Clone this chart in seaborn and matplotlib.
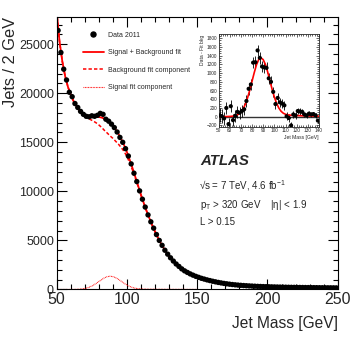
import numpy as np
import matplotlib
matplotlib.use("Agg")
import matplotlib.pyplot as plt
import seaborn as sns
from matplotlib.lines import Line2D
from matplotlib.ticker import MultipleLocator

# fit curves, sampled every 2 GeV from 50 to 250
fit_x = np.arange(50, 251, 2)
total_fit = [28300, 25300, 23250, 21750, 20650, 19850, 19200, 18700, 18300, 18000,
             17800, 17650, 17600, 17600, 17600, 17580, 17520, 17400, 17250, 17000,
             16700, 16300, 15850, 15300, 14700, 14000, 13200, 12350, 11450, 10550,
             9650, 8800, 8000, 7250, 6550, 5900, 5300, 4750, 4250, 3800,
             3400, 3050, 2750, 2470, 2220, 2000, 1820, 1660, 1520, 1400,
             1290, 1190, 1100, 1020, 945, 875, 810, 750, 695, 645,
             600, 560, 525, 490, 460, 435, 412, 392, 373, 356,
             340, 326, 313, 301, 290, 280, 271, 263, 255, 248,
             241, 235, 229, 224, 219, 214, 209, 205, 201, 197,
             193, 190, 186, 183, 180, 177, 174, 171, 168, 166, 163]
# components, 50 to 150
bkg_fit = [28300, 25300, 23250, 21750, 20650, 19850, 19190, 18680, 18270, 17940,
           17700, 17480, 17320, 17170, 16990, 16770, 16510, 16210, 15940, 15650,
           15400, 15100, 14800, 14450, 14060, 13550, 12890, 12150, 11325, 10470,
           9595, 8758, 7965, 7220, 6522, 5874, 5276, 4728, 4230, 3782,
           3383, 3034, 2735, 2456, 2207, 1988, 1809, 1650, 1511, 1392, 1282]
sig_fit = [0, 0, 0, 2, 4, 6, 10, 18, 32, 58,
           100, 175, 285, 430, 610, 810, 1010, 1190, 1310, 1350,
           1310, 1200, 1030, 830, 630, 450, 310, 200, 125, 80,
           55, 42, 35, 30, 28, 26, 24, 22, 20, 18,
           17, 16, 15, 14, 13, 12, 11, 10, 9, 8, 8]

# data, 2 GeV bins centred 51..249
bins = np.arange(51, 250, 2)
data = [26400, 24150, 22450, 21350, 20100, 19650, 18950, 18550, 18150, 17850,
        17650, 17600, 17700, 17650, 17750, 17950, 17850, 17350, 17150, 16850,
        16500, 16050, 15500, 15000, 14350, 13600, 12800, 11850, 11000, 10050,
        9200, 8400, 7600, 6900, 6250, 5600, 5000, 4500, 4000, 3600,
        3230, 2900, 2600, 2350, 2100, 1900, 1740, 1590, 1460, 1340,
        1240, 1140, 1060, 980, 910, 840, 780, 720, 670, 620,
        580, 540, 505, 475, 448, 423, 402, 382, 364, 348,
        333, 319, 307, 295, 285, 276, 267, 259, 252, 245,
        238, 232, 226, 221, 216, 211, 207, 203, 199, 195,
        191, 188, 185, 181, 178, 175, 172, 170, 167, 164]

# inset: data minus fitted background, 51..139
inset_bins = np.arange(51, 140, 2)
inset_data = [30, 10, -40, 200, -170, 240, -80, 20, 110, 90,
              130, 170, 360, 640, 740, 1240, 1250, 1520, 1350, 1150,
              1130, 1120, 880, 800, 570, 290, 430, 330, 300, 260,
              10, -30, -200, 50, 30, 130, 120, 110, 50, 30,
              70, 50, 60, 30, -90]
inset_err = [160, 155, 150, 147, 143, 141, 139, 137, 135, 134,
             133, 133, 133, 133, 134, 134, 134, 133, 132, 131,
             129, 127, 125, 122, 120, 117, 113, 109, 105, 101,
             96, 92, 88, 84, 80, 76, 72, 69, 66, 62,
             59, 56, 54, 51, 48]

sns.set_style("ticks")
plt.rcParams['font.family'] = ['Liberation Sans', 'DejaVu Sans']
plt.rcParams['mathtext.fontset'] = 'custom'
plt.rcParams['mathtext.rm'] = 'Liberation Sans'
plt.rcParams['mathtext.it'] = 'Liberation Sans:italic'

fig = plt.figure(figsize=(3.57, 3.45), dpi=100)
ax = fig.add_axes([0.1588, 0.1609, 0.7872, 0.7907])

sns.lineplot(x=fit_x[:51], y=bkg_fit, ax=ax, color='red', lw=1.1, linestyle=(0, (2.2, 1.4)))
sns.lineplot(x=fit_x[:51], y=sig_fit, ax=ax, color='red', lw=0.8, linestyle=(0, (0.7, 0.7)))
sns.lineplot(x=fit_x, y=total_fit, ax=ax, color='red', lw=1.3)
sns.scatterplot(x=bins, y=data, ax=ax, color='black', s=15, edgecolor='none', zorder=5)

ax.set_xlim(50, 250)
ax.set_ylim(0, 27800)
ax.xaxis.set_major_locator(MultipleLocator(50))
ax.xaxis.set_minor_locator(MultipleLocator(10))
ax.yaxis.set_major_locator(MultipleLocator(5000))
ax.yaxis.set_minor_locator(MultipleLocator(1000))
ax.tick_params(which='both', direction='in', top=True, right=True, width=0.8, color='black')
ax.tick_params(which='major', length=7)
ax.tick_params(which='minor', length=3.5)
ax.tick_params(axis='x', labelsize=11.5, pad=2)
ax.tick_params(axis='y', labelsize=9, pad=2)
for s in ax.spines.values():
    s.set_linewidth(0.8)
    s.set_color('black')
ax.set_xlabel('Jet Mass [GeV]', fontsize=11.2, loc='right', labelpad=6)
ax.set_ylabel('Jets / 2 GeV', fontsize=11.8, loc='top', labelpad=1)

handles = [Line2D([], [], marker='o', ls='none', color='black', markersize=3.6),
           Line2D([], [], color='red', lw=1.3),
           Line2D([], [], color='red', lw=1.1, ls=(0, (2.2, 1.4))),
           Line2D([], [], color='red', lw=0.8, ls=(0, (0.7, 0.7)))]
labels = ['Data 2011', 'Signal + Background fit', 'Background fit component', 'Signal fit component']
ax.legend(handles, labels, loc='upper left', bbox_to_anchor=(0.0925, 0.945), frameon=False,
          fontsize=5, handlelength=3, handletextpad=0.6, labelspacing=1.5,
          borderpad=0, borderaxespad=0)

# inset
ins = fig.add_axes([218.5 / 357, 1 - 126.7 / 345, 100.5 / 357, 92.4 / 345])
ins.axhline(0, color='#333333', lw=1.0)
ins.errorbar(inset_bins, inset_data, yerr=inset_err, fmt='none', ecolor='black', elinewidth=0.6)
sns.scatterplot(x=inset_bins, y=inset_data, ax=ins, color='black', s=9, edgecolor='none', zorder=4)
sns.lineplot(x=fit_x[:46], y=sig_fit[:46], ax=ins, color='red', lw=1.2)
ins.set_xlim(50, 140)
ins.set_ylim(-230, 1890)
ins.xaxis.set_major_locator(MultipleLocator(10))
ins.xaxis.set_minor_locator(MultipleLocator(2))
ins.yaxis.set_major_locator(MultipleLocator(200))
ins.yaxis.set_minor_locator(MultipleLocator(50))
ins.tick_params(which='both', direction='in', top=True, right=True, width=0.5, labelsize=3.4, pad=1)
ins.tick_params(which='major', length=2.5)
ins.tick_params(which='minor', length=1.2)
for s in ins.spines.values():
    s.set_linewidth(0.6)
ins.set_xlabel('Jet Mass [GeV]', fontsize=3.6, loc='right', labelpad=1.5)
ins.set_ylabel('Data - Fit bkg', fontsize=3.6, loc='top', labelpad=1)

fig.text(200 / 357, 1 - 161 / 345, 'ATLAS', fontsize=10.8, fontweight='bold', style='italic', va='center')
fig.text(199 / 357, 1 - 186 / 345, '√s = 7 TeV, 4.6 fb$^{-1}$', fontsize=7, va='center')
fig.text(200 / 357, 1 - 205 / 345, r'$\mathrm{p_{T}}$ > 320 GeV    |η| < 1.9', fontsize=7, va='center')
fig.text(200 / 357, 1 - 222 / 345, 'L > 0.15', fontsize=7, va='center')

fig.savefig('out.png', dpi=100)
